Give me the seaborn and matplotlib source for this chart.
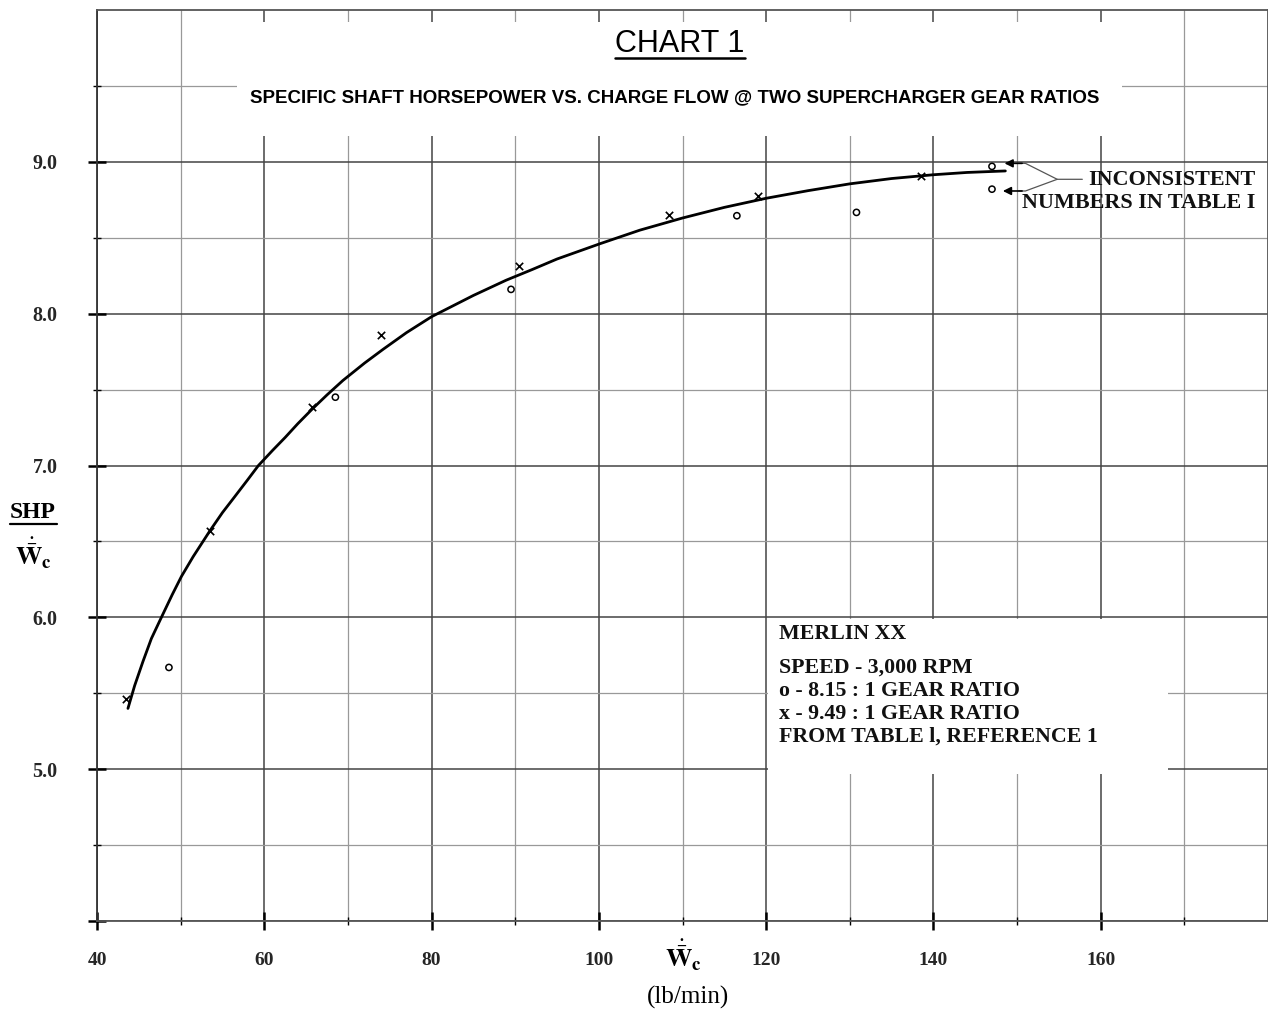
import matplotlib
matplotlib.use("Agg")
import matplotlib.pyplot as plt
import seaborn as sns
import numpy as np
import pandas as pd
from matplotlib.lines import Line2D
from matplotlib.patches import Rectangle
from matplotlib.ticker import FixedLocator

# ---------------- data ----------------
curve_x = [43.7, 44.5, 45.5, 46.5, 47.7, 49.0, 50.1, 51.5, 53.5, 55.0, 56.4, 58.0,
           59.3, 61.0, 62.5, 64.0, 65.7, 67.5, 69.4, 72.0, 74.2, 77.0, 80.0,
           82.5, 85.0, 88.9, 92.0, 95.0, 100.1, 104.9, 110.0, 115.0, 120.0,
           125.0, 130.0, 135.0, 140.0, 144.0, 148.6]
curve_y = [5.40, 5.55, 5.71, 5.86, 6.00, 6.15, 6.27, 6.40, 6.57, 6.69, 6.79, 6.905,
           7.00, 7.10, 7.185, 7.275, 7.37, 7.465, 7.56, 7.675, 7.765, 7.875, 7.98,
           8.05, 8.12, 8.22, 8.29, 8.36, 8.46, 8.55, 8.63, 8.70, 8.76,
           8.81, 8.855, 8.89, 8.915, 8.93, 8.94]

gear815_x = [48.6, 68.5, 89.5, 116.5, 130.8, 147.0, 147.0]
gear815_y = [5.67, 7.45, 8.16, 8.645, 8.667, 8.97, 8.82]

gear949_x = [43.5, 53.5, 65.7, 73.9, 90.4, 108.4, 119.0, 138.5]
gear949_y = [5.46, 6.57, 7.385, 7.857, 8.317, 8.652, 8.773, 8.905]

x_ticks = [40, 60, 80, 100, 120, 140, 160]
x_tick_labels = ["40", "60", "80", "100", "120", "140", "160"]
x_minor = [50, 70, 90, 110, 130, 150, 170]
y_ticks = [4.0, 5.0, 6.0, 7.0, 8.0, 9.0]
y_tick_labels = ["", "5.0", "6.0", "7.0", "8.0", "9.0"]
y_minor = [4.5, 5.5, 6.5, 7.5, 8.5, 9.5]

title = "CHART 1"
subtitle = "SPECIFIC SHAFT HORSEPOWER VS. CHARGE FLOW @ TWO SUPERCHARGER GEAR RATIOS"
box_lines = ["MERLIN XX", "SPEED - 3,000 RPM", "o - 8.15 : 1 GEAR RATIO",
             "x - 9.49 : 1 GEAR RATIO", "FROM TABLE l, REFERENCE 1"]
note_lines = ["INCONSISTENT", "NUMBERS IN TABLE I"]

# ---------------- style ----------------
sns.set_theme(style="white")
plt.rcParams["font.family"] = ["Liberation Serif", "DejaVu Serif"]
plt.rcParams["mathtext.fontset"] = "stix"

W, H = 1268, 1009
fig = plt.figure(figsize=(W / 100, H / 100), dpi=100)
fig.patch.set_facecolor("white")


def fx(px):
    return px / W


def fy(py):
    return 1 - py / H


ax = fig.add_axes([fx(97), fy(921), fx(1268 - 97), (921 - 10) / H])
ax.set_facecolor("white")
ax.set_xlim(40, 180)
ax.set_ylim(4, 10)
ax.set_axisbelow(True)

ax.set_xticks(x_ticks, labels=x_tick_labels, fontsize=14, fontweight="bold")
ax.set_yticks(y_ticks, labels=y_tick_labels, fontsize=14.5, fontweight="bold")
ax.xaxis.set_minor_locator(FixedLocator(x_minor))
ax.yaxis.set_minor_locator(FixedLocator(y_minor))

ax.grid(which="major", color="#444444", linewidth=1.1)
ax.grid(which="minor", color="#999999", linewidth=0.9)

ax.tick_params(axis="both", which="major", direction="inout", length=13,
               width=1.8, color="black", bottom=True, left=True)
ax.tick_params(axis="both", which="minor", direction="inout", length=6,
               width=1.0, color="black", bottom=True, left=True)
ax.tick_params(axis="x", which="major", pad=16)
ax.tick_params(axis="y", which="major", pad=22)

for side, sp in ax.spines.items():
    sp.set_visible(True)
    sp.set_color("#555555")
    sp.set_linewidth(1.3)
ax.spines["left"].set_color("#333333")

# white panels covering the grid
ax.add_patch(Rectangle((56.7, 9.17), 162.5 - 56.7, 9.92 - 9.17,
                       facecolor="white", edgecolor="none", zorder=1))
ax.add_patch(Rectangle((120.25, 4.965), 168.1 - 120.25, 5.99 - 4.965,
                       facecolor="white", edgecolor="none", zorder=1))

# ---------------- marks ----------------
sns.lineplot(x=curve_x, y=curve_y, color="black", linewidth=2.0,
             estimator=None, sort=False, ax=ax, zorder=3)
sns.scatterplot(x=gear815_x, y=gear815_y, marker="o", s=20,
                facecolor="none", edgecolor="black", linewidth=1.1,
                ax=ax, zorder=4)
sns.scatterplot(x=gear949_x, y=gear949_y, marker="x", s=28,
                color="black", linewidth=1.2, ax=ax, zorder=4)

# ---------------- annotation bracket ----------------
ax.plot([157.8, 154.8, 151.0, 150.2], [8.885, 8.885, 8.99, 8.99],
        color="#555555", linewidth=0.9, zorder=3)
ax.plot([154.8, 151.0, 150.2], [8.885, 8.808, 8.808],
        color="#555555", linewidth=0.9, zorder=3)
ax.annotate("", xy=(148.5, 8.99), xytext=(150.6, 8.99),
            arrowprops=dict(arrowstyle="-|>", color="black", lw=1.2,
                            mutation_scale=12, shrinkA=0, shrinkB=0), zorder=4)
ax.annotate("", xy=(148.3, 8.808), xytext=(150.6, 8.808),
            arrowprops=dict(arrowstyle="-|>", color="black", lw=1.2,
                            mutation_scale=12, shrinkA=0, shrinkB=0), zorder=4)

renderer = fig.canvas.get_renderer()


def fit_width(t, target):
    w = t.get_window_extent(renderer).width
    t.set_fontsize(t.get_fontsize() * target / w)
    return t.get_fontsize()


# note text (right side)
n2 = fig.text(fx(1255), fy(203), note_lines[1], ha="right", va="center",
              fontsize=15, fontweight="bold", color="#111111")
fs_note = fit_width(n2, 235)
n1 = fig.text(fx(1255), fy(180), note_lines[0], ha="right", va="center",
              fontsize=fs_note, fontweight="bold", color="#111111")

# info box text
box_y = [634, 668, 691, 714, 737]
probe = fig.text(fx(779), fy(737), box_lines[4], ha="left", va="center",
                 fontsize=15, fontweight="bold", color="#111111")
fs_box = fit_width(probe, 320)
probe.remove()
for yy, line in zip(box_y, box_lines):
    fig.text(fx(779), fy(yy), line, ha="left", va="center",
             fontsize=fs_box, fontweight="bold", color="#111111")

# titles
fig.text(fx(680), fy(44), title, ha="center", va="center",
         fontsize=22, family="Liberation Sans", color="black")
fig.add_artist(Line2D([fx(615), fx(745)], [fy(58), fy(58)],
                      color="black", linewidth=1.8))
st = fig.text(fx(674.5), fy(98), subtitle, ha="center", va="center",
              fontsize=13, family="Liberation Sans", fontweight="bold",
              color="black")
fit_width(st, 853)

# y label
fig.text(fx(33), fy(513), "SHP", ha="center", va="center",
         fontsize=17, fontweight="bold", color="black")
fig.add_artist(Line2D([fx(10), fx(57)], [fy(524), fy(524)],
                      color="black", linewidth=1.6))
fig.text(fx(33), fy(553), r"$\dot{\bar{\mathbf{W}}}_{\mathbf{c}}$",
         ha="center", va="center", fontsize=19, color="black")

# x label
fig.text(fx(683), fy(955), r"$\dot{\bar{\mathbf{W}}}_{\mathbf{c}}$",
         ha="center", va="center", fontsize=19, color="black")
fig.text(fx(688), fy(997), "(lb/min)", ha="center", va="center",
         fontsize=18, color="black")

fig.savefig("out.png", dpi=100, facecolor="white")
